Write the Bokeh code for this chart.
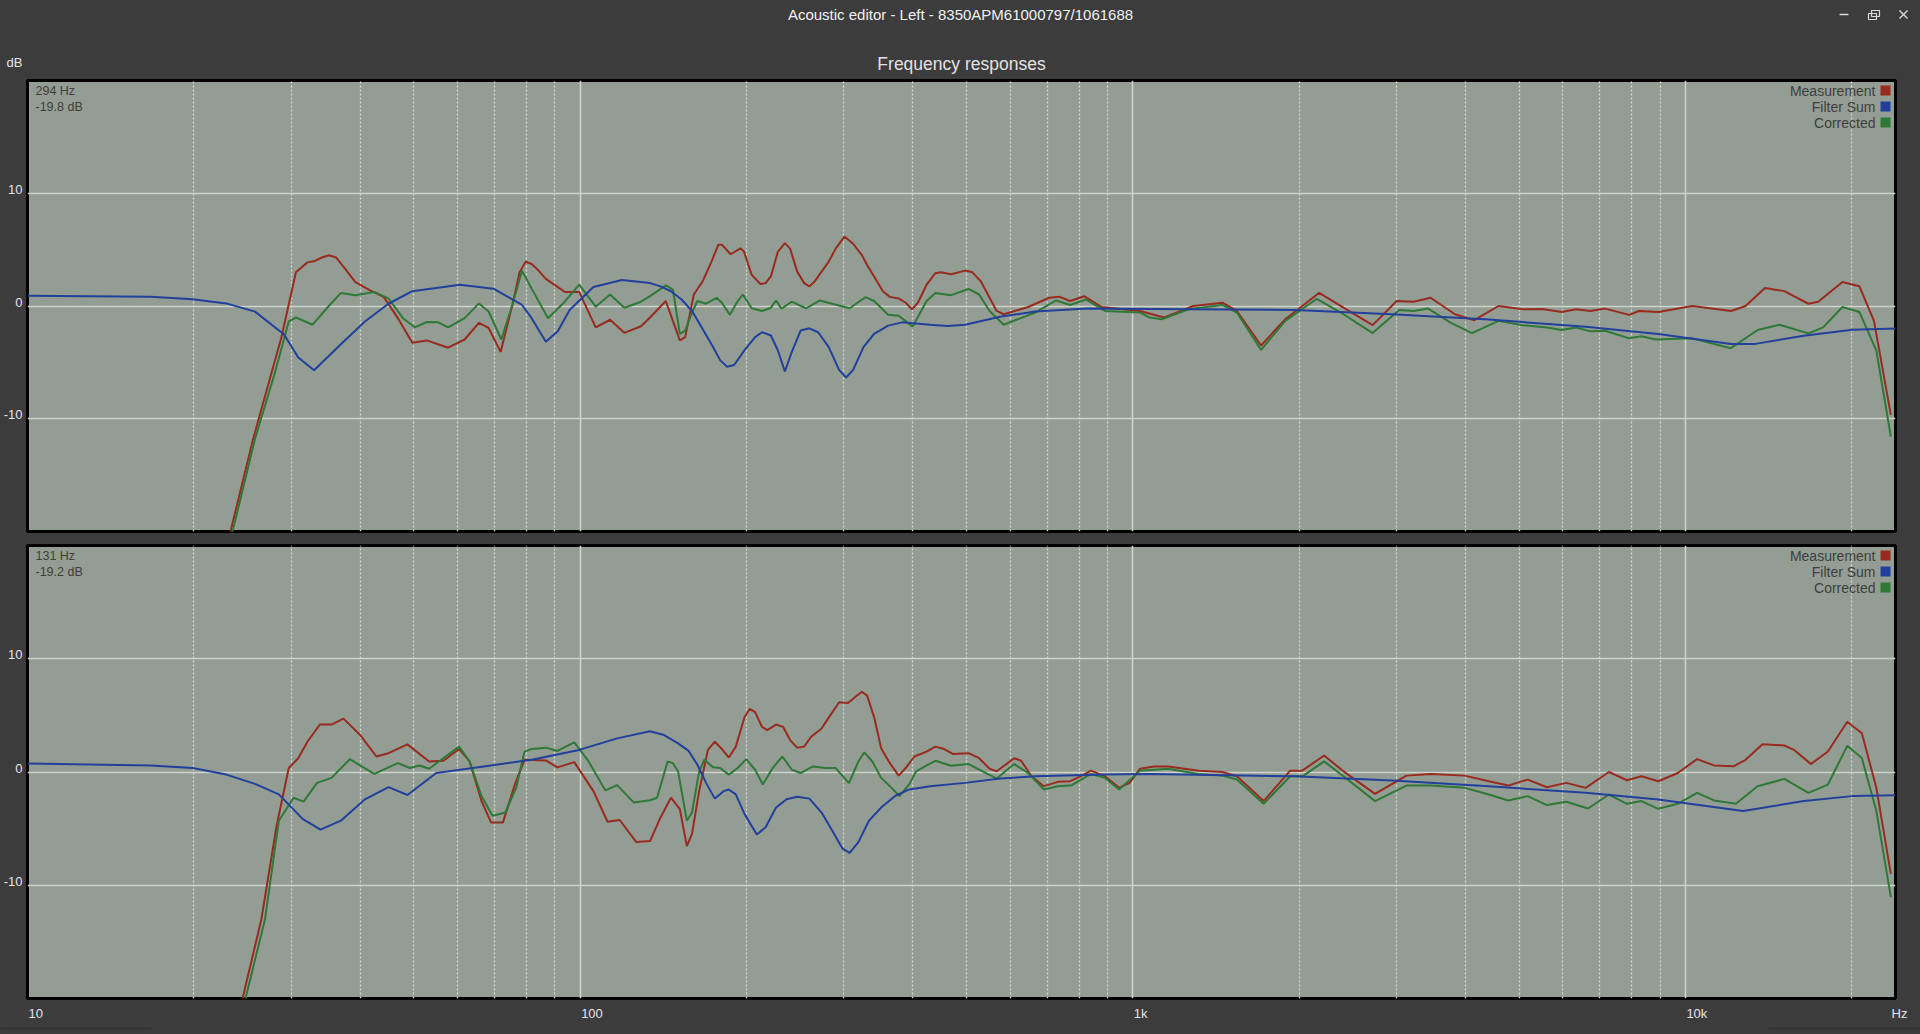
import math
from jinja2 import Template
from bokeh.plotting import figure
from bokeh.models import Range1d, FixedTicker
from bokeh.layouts import column
from bokeh.embed import file_html
from bokeh.resources import INLINE
from bokeh.core.properties import value

# ---------------- texts ----------------
WINDOW_TITLE = "Acoustic editor - Left - 8350APM61000797/1061688"
CHART_TITLE = "Frequency responses"
Y_UNIT = "dB"
X_UNIT = "Hz"
SERIES_NAMES = ["Measurement", "Filter Sum", "Corrected"]
SERIES_COLORS = ["#982b20", "#21409c", "#2e7838"]
CURSOR_TOP = ["294 Hz", "-19.8 dB"]
CURSOR_BOTTOM = ["131 Hz", "-19.2 dB"]

# ---------------- axes ----------------
X_TICKS = [10, 100, 1000, 10000]
X_TICK_LABELS = ["10", "100", "1k", "10k"]
X_MINOR_TICKS = [20, 30, 40, 50, 60, 70, 80, 90,
                 200, 300, 400, 500, 600, 700, 800, 900,
                 2000, 3000, 4000, 5000, 6000, 7000, 8000, 9000,
                 20000]
Y_TICKS = [-10, 0, 10]
Y_TICK_LABELS = ["-10", "0", "10"]

# ---------------- top panel data (Hz, dB) ----------------
TOP_FILTER_F = [10, 16.7, 19.9, 22.9, 25.8, 29.1, 30.9, 33.0, 36.9, 40.8,
                45.0, 49.7, 60.6, 69.7, 78.5, 81.7, 86.7, 91.1, 95.7, 105.7,
                119, 133.8, 139.8, 146, 152.6, 159.4, 166.6, 174, 179.2, 184.5,
                190, 198.4, 207.3, 213.4, 221.4, 227.9, 234.7, 241.6, 250.6, 259.9,
                269.6, 281.6, 294.2, 302.9, 311.9, 325.8, 340.4, 360.9, 382.4, 430,
                462, 497.5, 535, 575, 666, 828.6, 1073, 1967, 2944, 4409,
                6600, 8935, 12090, 13380, 16380, 20040, 24000]
TOP_FILTER_DB = [0.9, 0.81, 0.6, 0.23, -0.5, -2.5, -4.56, -5.7, -3.4, -1.37,
                 0.2, 1.31, 1.89, 1.54, 0.09, -1.08, -3.17, -2.24, -0.35, 1.69,
                 2.3, 2.03, 1.74, 1.31, 0.58, -0.44, -2.03, -3.63, -4.8, -5.38,
                 -5.23, -3.92, -2.76, -2.33, -2.62, -3.92, -5.81, -4.07, -2.18, -1.98,
                 -2.33, -3.63, -5.67, -6.34, -5.67, -3.63, -2.47, -1.74, -1.45, -1.66,
                 -1.77, -1.66, -1.31, -0.96, -0.49, -0.23, -0.26, -0.35, -0.73, -1.2,
                 -1.84, -2.49, -3.36, -3.36, -2.63, -2.1, -2.0]

TOP_MEAS_F = [22.3, 23.3, 25.6, 27.4, 28.8, 30.6, 32.1, 33.1, 34.1, 35.1,
              36.2, 37.6, 39.2, 41.6, 44.1, 46.8, 49.7, 52.8, 57.7, 61.8,
              65.6, 68.3, 71.8, 75.4, 77.7, 79.7, 81.7, 84.1, 86.7, 93.8,
              99.6, 106.7, 113.3, 120.2, 128.9, 133.8, 142.9, 151.5, 154.9, 160.6,
              166.6, 172.8, 177.9, 180.5, 187.2, 195, 197.9, 204.4, 211.9, 216.6,
              221.4, 227.9, 234.7, 239.9, 247, 254.3, 259.9, 265.7, 273.5, 281.6,
              290, 300.8, 311.9, 323.5, 330.6, 340.4, 353, 363.5, 377, 388.2,
              398.5, 408.5, 423.6, 439.4, 449.2, 469.2, 497.5, 512.2, 531.2, 550.8,
              567.2, 584, 646.8, 705.9, 737.5, 770.4, 816.6, 878.6, 1031, 1109,
              1140, 1287, 1453, 1543, 1707, 1888, 2175, 2406, 2717, 3004,
              3224, 3460, 3828, 4150, 4590, 5078, 5505, 5968, 6340, 6736,
              7156, 7914, 8241, 8935, 10290, 12090, 12850, 13930, 15100, 16700,
              17390, 19240, 20650, 21940, 23540]
TOP_MEAS_DB = [-24, -20, -11.8, -6.6, -2.8, 3.0, 3.87, 4.0, 4.3, 4.5,
               4.3, 3.28, 2.12, 1.4, 0.81, -1.08, -3.26, -3.05, -3.7, -2.97,
               -1.5, -1.95, -4.07, 0.09, 3.0, 3.92, 3.72, 3.14, 2.41, 1.25,
               1.25, -1.89, -1.22, -2.38, -1.8, -1.02, 0.44, -3.05, -2.76, 1.02,
               2.18, 3.92, 5.44, 5.44, 4.59, 5.12, 4.83, 2.76, 1.95, 2.03,
               2.62, 4.8, 5.58, 5.09, 3.05, 2.03, 1.74, 2.18, 3.05, 3.92,
               5.09, 6.16, 5.52, 4.51, 3.63, 2.62, 1.31, 0.81, 0.67, 0.29,
               -0.29, 0.29, 1.89, 2.91, 3.0, 2.82, 3.14, 3.0, 2.18, 0.73,
               -0.44, -0.73, -0.09, 0.73, 0.81, 0.44, 0.87, -0.09, -0.44, -0.87,
               -1.02, 0, 0.29, -0.44, -3.5, -1.17, 1.17, -0.15, -1.7, 0.44,
               0.38, 0.73, -0.73, -1.26, 0, -0.29, -0.26, -0.53, -0.29, -0.44,
               -0.23, -0.79, -0.44, -0.53, 0, -0.44, 0, 1.6, 1.32, 0.2,
               0.38, 2.13, 1.75, -1.32, -9.65]

TOP_CORR_F = [22.5, 23.5, 25.8, 28.0, 29.7, 30.6, 32.8, 34.8, 36.9, 39.2,
              42.4, 45.0, 47.8, 50.2, 52.8, 55.4, 57.7, 61.8, 65.6, 68.3,
              72.0, 75.4, 78.5, 81.7, 87.5, 93.8, 99.6, 106.7, 113.3, 120.2,
              128.9, 133.8, 142.9, 147.2, 151.5, 154.9, 159.4, 163, 169, 176.6,
              180.5, 186.6, 192.8, 197, 204.4, 213.4, 221.4, 226.2, 231.4, 241.6,
              256.2, 271.6, 285.8, 307.4, 328.2, 340.4, 360.9, 377, 399.7, 423.6,
              439.4, 469.2, 504.7, 527.2, 550.8, 584, 666, 726.6, 770.4, 822.6,
              891, 1031, 1073, 1129, 1261, 1453, 1543, 1707, 1888, 2153,
              2406, 2717, 3034, 3224, 3425, 3752, 4108, 4590, 5078, 5618,
              5968, 6340, 6736, 7156, 7914, 8325, 8845, 10290, 12090, 13510,
              14800, 16700, 17750, 19240, 20650, 22160, 23540]
TOP_CORR_DB = [-24, -20, -11.8, -6.0, -1.37, -1.02, -1.66, -0.2, 1.16, 0.96,
               1.25, 0.67, -1.08, -1.89, -1.42, -1.45, -1.89, -1.08, 0.23, -0.49,
               -2.97, 0.09, 3.14, 1.54, -1.08, 0.38, 1.89, -0.06, 1.02, -0.15,
               0.38, 0.87, 1.83, 1.45, -2.47, -2.18, -0.58, 0.44, 0.2, 0.73,
               0.29, -0.78, 0.44, 1.02, -0.2, -0.44, -0.15, 0.49, -0.23, 0.38,
               -0.2, 0.49, 0.2, -0.2, 0.78, 0.44, -0.78, -0.87, -1.83, 0.44,
               1.16, 0.96, 1.51, 1.02, -0.44, -1.66, -0.58, 0.49, 0.09, 0.58,
               -0.44, -0.58, -1.02, -1.17, -0.29, 0.09, -0.58, -3.89, -1.32, 0.64,
               -0.73, -2.4, -0.35, -0.44, -0.23, -1.46, -2.4, -1.32, -1.7, -1.9,
               -2.13, -1.9, -2.25, -2.19, -2.87, -2.69, -2.98, -2.87, -3.74, -2.13,
               -1.67, -2.43, -1.9, -0.09, -0.53, -3.95, -11.6]

# ---------------- bottom panel data (Hz, dB) ----------------
BOT_FILTER_F = [10, 16.7, 19.9, 22.9, 25.8, 28.5, 31.5, 33.9, 36.9, 40.8,
                45.0, 48.7, 54.9, 66.9, 81.7, 99.6, 116.7, 133.8, 141.9, 150.4,
                157.2, 163, 169, 175.3, 181.8, 185.8, 191.3, 198.4, 208.8, 216.6,
                226.2, 236.4, 247, 259.9, 273.5, 285.8, 298.5, 307.4, 318.8, 333.1,
                350.5, 371.5, 393.9, 430, 497.5, 575, 666, 891, 1073, 1967,
                2944, 4409, 6600, 8935, 12720, 16380, 20040, 24000]
BOT_FILTER_DB = [0.75, 0.58, 0.35, -0.23, -1.05, -1.98, -4.16, -5.09, -4.3, -2.41,
                 -1.34, -2.03, -0.09, 0.49, 1.08, 1.95, 2.97, 3.6, 3.26, 2.53,
                 1.86, 0.64, -0.96, -2.35, -1.69, -1.54, -1.98, -3.72, -5.52, -4.88,
                 -3.14, -2.41, -2.18, -2.35, -3.58, -5.17, -6.77, -7.15, -6.19, -4.3,
                 -3.14, -2.12, -1.54, -1.25, -0.96, -0.58, -0.38, -0.23, -0.18, -0.38,
                 -0.76, -1.26, -1.84, -2.43, -3.45, -2.57, -2.13, -2.05]

BOT_MEAS_F = [23.5, 24.5, 26.5, 28.2, 29.7, 30.9, 32.1, 33.8, 35.5, 37.3,
              40.0, 42.8, 45.0, 48.7, 53.3, 56.6, 60.4, 63.1, 66.3, 69.0,
              72.5, 76.2, 79.3, 86.7, 91.0, 97.6, 105.7, 112.1, 117.9, 126.4,
              133.8, 139.8, 146, 151.5, 156, 159.4, 164.2, 170.3, 175.3, 180.5,
              185.8, 191.3, 198.4, 202.8, 207.3, 213.4, 218.1, 226.2, 233, 239.9,
              247, 254.3, 261.8, 273.5, 279.6, 294.2, 305.2, 314.2, 323.5, 330.6,
              340.4, 350.5, 363.5, 377, 388.2, 402.5, 423.6, 439.4, 455.8, 472.6,
              504.7, 527.2, 550.8, 567.2, 588.3, 610, 628.1, 656, 690.5, 732,
              770.4, 804.7, 840.4, 891, 944.7, 987, 1031, 1093, 1159, 1318,
              1453, 1543, 1725, 1927, 2027, 2220, 2406, 2744, 3128, 3460,
              3986, 4409, 4779, 5181, 5618, 6090, 6600, 7272, 7839, 8325,
              8935, 9688, 10500, 11270, 12220, 12850, 13790, 15100, 15720, 16870,
              18110, 19630, 20860, 22160, 23540]
BOT_MEAS_DB = [-23, -20, -13, -4.88, 0.35, 1.22, 2.67, 4.19, 4.19, 4.71,
               3.26, 1.37, 1.66, 2.44, 0.93, 0.99, 2.03, 0.93, -2.56, -4.45,
               -4.45, -1.1, 1.08, 1.02, 0.41, 0.87, -1.69, -4.39, -4.24, -6.19,
               -6.1, -4.01, -2.27, -3.28, -6.54, -5.47, -1.69, 1.95, 2.67, 2.03,
               1.28, 2.24, 4.85, 5.58, 5.29, 3.98, 3.69, 4.19, 3.98, 2.82,
               2.15, 2.24, 3.11, 3.84, 4.56, 6.16, 6.1, 6.6, 7.09, 6.74,
               4.85, 2.09, 0.78, -0.32, 0.35, 1.37, 1.8, 2.24, 2.03, 1.6,
               1.66, 1.22, 0.29, 0.06, 0.64, 1.22, 0.99, -0.38, -1.25, -0.87,
               -0.81, -0.38, 0.12, -0.38, -1.4, -0.96, 0.29, 0.49, 0.49, 0.12,
               0, -0.38, -2.57, 0.12, 0.12, 1.46, 0.06, -1.93, -0.32, -0.18,
               -0.32, -0.82, -1.2, -0.67, -1.35, -0.96, -1.4, 0, -0.73, -0.38,
               -0.82, -0.09, 1.14, 0.58, 0.5, 1.08, 2.46, 2.34, 1.96, 0.7,
               1.81, 4.44, 3.42, -1.4, -9.0]

BOT_CORR_F = [23.8, 24.8, 26.9, 28.5, 30.3, 31.6, 33.4, 35.5, 38.3, 42.4,
              46.8, 49.2, 51.2, 53.3, 60.4, 63.1, 66.3, 69.4, 73.2, 76.6,
              79.3, 81.7, 86.7, 91.0, 97.6, 103.6, 111.1, 116.7, 125.1, 133.8,
              137.8, 144, 147.2, 150.4, 156, 159.4, 164.2, 167.8, 174, 179.2,
              185.8, 192.8, 199.8, 207.3, 214.1, 223, 232.3, 241.6, 250.6, 263.7,
              277.5, 290, 306.5, 318.8, 326.8, 337.9, 350.5, 366.2, 378.2, 393.9,
              405.5, 420.6, 439.3, 469.2, 504.7, 535, 567.2, 610, 646.7, 690.5,
              732, 776, 840.4, 891, 944.7, 1031, 1159, 1314, 1453, 1543,
              1725, 1927, 2027, 2220, 2406, 2744, 3128, 3460, 3986, 4409,
              4779, 5181, 5618, 6090, 6668, 7272, 7839, 8325, 8935, 9688,
              10500, 11270, 12340, 13510, 15100, 16700, 18110, 19630, 20860, 22160,
              23540]
BOT_CORR_DB = [-23, -20, -13, -4.3, -2.27, -2.62, -0.96, -0.52, 1.13, -0.17,
               0.78, 0.35, 0.58, 0.29, 2.24, 0.93, -2.12, -3.87, -3.58, -1.4,
               1.8, 2.03, 2.15, 1.86, 2.62, 0.93, -1.63, -1.16, -2.7, -2.5,
               -2.27, 0.93, 0.78, 0.06, -4.3, -3.58, 0.06, 1.08, 0.41, 0.35,
               -0.23, 0.35, 1.13, 0.2, -1.1, 0.35, 1.37, 0.2, -0.09, 0.49,
               0.35, 0.35, -0.99, 0.93, 1.74, 0.93, -0.52, -1.4, -2.12, -1.1,
               0.06, 0.49, 0.99, 0.55, 0.7, 0.06, -0.58, 0.7, -0.09, -1.54,
               -1.25, -1.16, -0.17, -0.52, -1.54, 0.12, 0.29, -0.18, -0.32, -0.67,
               -2.81, -0.38, -0.38, 0.94, -0.38, -2.57, -1.2, -1.2, -1.4, -1.99,
               -2.51, -2.13, -2.92, -2.63, -3.22, -1.99, -2.81, -2.57, -3.25, -2.81,
               -1.84, -2.51, -2.81, -1.26, -0.61, -1.84, -1.11, 2.31, 1.23, -3.45,
               -11.05]

# ---------------- styling ----------------
FONT = "Liberation Sans"
WIN_BG = "#3c3c3c"
PANEL_BG = "#949d93"
GRID_MAJOR = "#cdd2cb"
GRID_MINOR = "#d6dad4"
LIGHT_TEXT = "#e4e4e4"
DARK_TEXT = "#3e3e3e"

PAGE_W = 1920
X_START, X_END = 10, 24000
Y_START, Y_END = -20, 20
BORDER_L, BORDER_R = 27, 25
FRAME_W = PAGE_W - BORDER_L - BORDER_R
LOG_SPAN = math.log10(X_END) - math.log10(X_START)


def frame_y(px_from_top, fh):
    """pixel offset from the frame top -> dB (decorations only)"""
    return Y_END - px_from_top * (Y_END - Y_START) / fh


def frame_x(px_from_left):
    """pixel offset from the frame left -> Hz (decorations only)"""
    return 10 ** (math.log10(X_START) + px_from_left * LOG_SPAN / FRAME_W)


def page_x(freq):
    """frequency -> page pixel, same mapping as the panels' log axis"""
    return BORDER_L + FRAME_W * (math.log10(freq) - math.log10(X_START)) / LOG_SPAN


def make_panel(fh, border_top, border_bottom, meas, filt, corr, cursor):
    p = figure(x_axis_type="log", x_range=Range1d(X_START, X_END),
               y_range=Range1d(Y_START, Y_END),
               frame_width=FRAME_W, frame_height=fh,
               min_border_left=BORDER_L, min_border_right=BORDER_R,
               min_border_top=border_top, min_border_bottom=border_bottom,
               output_backend="svg", toolbar_location=None,
               background_fill_color=PANEL_BG, border_fill_color=WIN_BG,
               outline_line_color="#000000", outline_line_width=3)

    p.xgrid.ticker = FixedTicker(ticks=X_TICKS, minor_ticks=X_MINOR_TICKS)
    p.xgrid.grid_line_color = GRID_MAJOR
    p.xgrid.grid_line_width = 1.6
    p.xgrid.minor_grid_line_color = GRID_MINOR
    p.xgrid.minor_grid_line_width = 1.3
    p.xgrid.minor_grid_line_dash = "2 2"
    p.ygrid.ticker = FixedTicker(ticks=Y_TICKS)
    p.ygrid.grid_line_color = GRID_MAJOR
    p.ygrid.grid_line_width = 1.6

    # the app prints its dB labels a few pixels above their grid lines
    lift = 4 * (Y_END - Y_START) / fh
    label_pos = [t + lift for t in Y_TICKS]
    p.yaxis.ticker = FixedTicker(ticks=label_pos)
    p.yaxis.major_label_overrides = dict(zip(label_pos, Y_TICK_LABELS))
    p.yaxis.axis_line_color = None
    p.yaxis.major_tick_line_color = None
    p.yaxis.minor_tick_line_color = None
    p.yaxis.major_tick_out = 0
    p.yaxis.major_tick_in = 0
    p.yaxis.minor_tick_out = 0
    p.yaxis.major_label_standoff = 5
    p.yaxis.major_label_text_color = LIGHT_TEXT
    p.yaxis.major_label_text_font = FONT
    p.yaxis.major_label_text_font_size = "13px"
    p.xaxis.visible = False

    # curves (Filter Sum drawn last, on top)
    for (f, db), color in [(meas, SERIES_COLORS[0]), (corr, SERIES_COLORS[2]),
                           (filt, SERIES_COLORS[1])]:
        p.line(f, db, line_color=color, line_width=2)

    # cursor read-out
    p.text(x=[frame_x(8)] * 2, y=[frame_y(10.5, fh), frame_y(26.5, fh)], text=cursor,
           text_align="left", text_baseline="middle", text_color=DARK_TEXT,
           text_font=value(FONT), text_font_size="12.5px")

    # legend: label, then colour swatch on its right
    ly = [frame_y(10, fh), frame_y(26, fh), frame_y(42, fh)]
    p.text(x=[frame_x(1848)] * 3, y=ly, text=SERIES_NAMES, text_align="right",
           text_baseline="middle", text_color=DARK_TEXT,
           text_font=value(FONT), text_font_size="14px")
    p.scatter(x=[frame_x(1858)] * 3, y=ly, marker="square", size=10,
              fill_color=SERIES_COLORS, line_color=None)
    return p


def strip(height):
    s = figure(width=PAGE_W, height=height, x_range=Range1d(0, PAGE_W),
               y_range=Range1d(height, 0), min_border=0,
               output_backend="svg", toolbar_location=None,
               background_fill_color=WIN_BG, border_fill_color=WIN_BG,
               outline_line_color=None)
    s.axis.visible = False
    s.grid.visible = False
    return s


# ---------------- header ----------------
head = strip(76)
head.text(x=[960], y=[14], text=[WINDOW_TITLE], text_align="center",
          text_baseline="middle", text_color="#f0f0f0",
          text_font=value(FONT), text_font_size="15px")
head.text(x=[961], y=[63], text=[CHART_TITLE], text_align="center",
          text_baseline="middle", text_color="#e2e2e2",
          text_font=value(FONT), text_font_size="17.5px")
head.text(x=[6], y=[62], text=[Y_UNIT], text_align="left",
          text_baseline="middle", text_color=LIGHT_TEXT,
          text_font=value(FONT), text_font_size="13px")
head.segment(x0=[1839], y0=[14], x1=[1848], y1=[14], line_color="#d8d8d8", line_width=1.5)
head.quad(left=[1868, 1871], right=[1876, 1879], top=[13, 10], bottom=[19, 16],
          fill_color=[WIN_BG, None], line_color="#d8d8d8", line_width=1.2)
head.segment(x0=[1899, 1899], y0=[10, 18], x1=[1907, 1907], y1=[18, 10],
             line_color="#d8d8d8", line_width=1.5)

# ---------------- panels ----------------
top = make_panel(451, 4, 7,
                 (TOP_MEAS_F, TOP_MEAS_DB), (TOP_FILTER_F, TOP_FILTER_DB),
                 (TOP_CORR_F, TOP_CORR_DB), CURSOR_TOP)
bottom = make_panel(453, 7, 6,
                    (BOT_MEAS_F, BOT_MEAS_DB), (BOT_FILTER_F, BOT_FILTER_DB),
                    (BOT_CORR_F, BOT_CORR_DB), CURSOR_BOTTOM)

# ---------------- footer: x tick labels (left-aligned on their grid lines) + unit ----------------
foot = strip(30)
foot.text(x=[page_x(t) + 1 for t in X_TICKS], y=[9] * len(X_TICKS), text=X_TICK_LABELS,
          text_align="left", text_baseline="middle", text_color=LIGHT_TEXT,
          text_font=value(FONT), text_font_size="13px")
foot.text(x=[page_x(X_END) - 4], y=[9], text=[X_UNIT], text_align="left",
          text_baseline="middle", text_color=LIGHT_TEXT,
          text_font=value(FONT), text_font_size="13px")
foot.segment(x0=[0, 1768], y0=[24, 24], x1=[151, 1920], y1=[24, 24],
             line_color="#333333", line_width=2)

layout = column(head, column(top, bottom, spacing=0), foot, spacing=0)

PAGE = Template("""{% extends base %}
{% block preamble %}<style>html, body { margin: 0; padding: 0; background: #3c3c3c; overflow: hidden; }</style>{% endblock %}
""")

open("out.html", "w").write(file_html(layout, INLINE, title="Acoustic editor", template=PAGE))
